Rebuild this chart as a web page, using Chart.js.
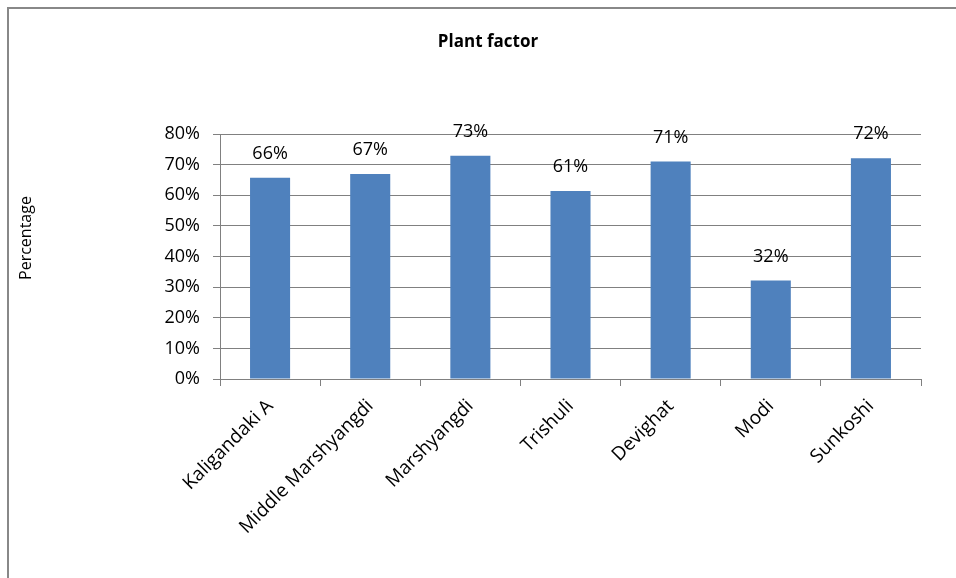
<!DOCTYPE html>
<html>
<head>
<meta charset="utf-8">
<title>Plant factor</title>
<script src="https://cdn.jsdelivr.net/npm/chart.js@4"></script>
<style>
    html, body { margin: 0; padding: 0; background: #ffffff; }
    canvas { display: block; }
</style>
</head>
<body>
<canvas id="plantChart" width="956" height="578"></canvas>
<script>
const plants = ['Kaligandaki A', 'Middle Marshyangdi', 'Marshyangdi', 'Trishuli', 'Devighat', 'Modi', 'Sunkoshi'];
const plantFactor = [0.657, 0.669, 0.729, 0.614, 0.710, 0.322, 0.721];
const yMin = 0;
const yMax = 0.8;
const yStep = 0.1;

const chartTitle = 'Plant factor';
const yTitle = 'Percentage';

const gridColor = '#808080';
const barColor = '#4f81bd';
const fontFamily = "'Open Sans', sans-serif";

const pct = v => Math.round(v * 100) + '%';

// frame, title, axis title and value labels on top of each bar
const decorations = {
    id: 'decorations',
    beforeDraw(chart) {
        const ctx = chart.ctx;
        ctx.save();
        ctx.strokeStyle = '#888888';
        ctx.lineWidth = 2;
        ctx.strokeRect(8, 8, 1200, 1200);
        ctx.restore();
    },
    afterDatasetsDraw(chart) {
        const ctx = chart.ctx;
        ctx.save();
        ctx.fillStyle = '#000000';
        ctx.textAlign = 'center';
        ctx.textBaseline = 'middle';

        ctx.font = 'bold 17px ' + fontFamily;
        ctx.fillText(chartTitle, 488, 42);

        ctx.save();
        ctx.translate(26, 238);
        ctx.rotate(-Math.PI / 2);
        ctx.font = '16px ' + fontFamily;
        ctx.fillText(yTitle, 0, 0);
        ctx.restore();

        ctx.font = '18px ' + fontFamily;
        const meta = chart.getDatasetMeta(0);
        meta.data.forEach((bar, i) => {
            ctx.fillText(pct(plantFactor[i]), bar.x, bar.y - 24);
        });
        ctx.restore();
    }
};

new Chart(document.getElementById('plantChart').getContext('2d'), {
    type: 'bar',
    data: {
        labels: plants,
        datasets: [{
            label: chartTitle,
            data: plantFactor,
            backgroundColor: barColor,
            borderWidth: 0,
            barPercentage: 0.4,
            categoryPercentage: 1.0
        }]
    },
    options: {
        responsive: false,
        animation: false,
        layout: {
            padding: { top: 134, right: 35, bottom: 0, left: 0 }
        },
        scales: {
            x: {
                offset: true,
                grid: {
                    offset: true,
                    drawOnChartArea: false,
                    color: gridColor,
                    tickLength: 7
                },
                border: { color: gridColor, width: 1 },
                ticks: {
                    color: '#000000',
                    font: { family: fontFamily, size: 19 },
                    minRotation: 45,
                    maxRotation: 45,
                    padding: 9,
                    autoSkip: false
                },
                afterFit(scale) { scale.height = 199; }
            },
            y: {
                min: yMin,
                max: yMax,
                grid: {
                    color: gridColor,
                    tickLength: 7
                },
                border: { color: gridColor, width: 1 },
                ticks: {
                    stepSize: yStep,
                    color: '#000000',
                    font: { family: fontFamily, size: 18 },
                    padding: 13,
                    callback: v => pct(v)
                },
                afterFit(scale) { scale.width = 220; }
            }
        },
        plugins: {
            legend: { display: false },
            title: { display: false },
            tooltip: { enabled: false }
        }
    },
    plugins: [decorations]
});
</script>
</body>
</html>
